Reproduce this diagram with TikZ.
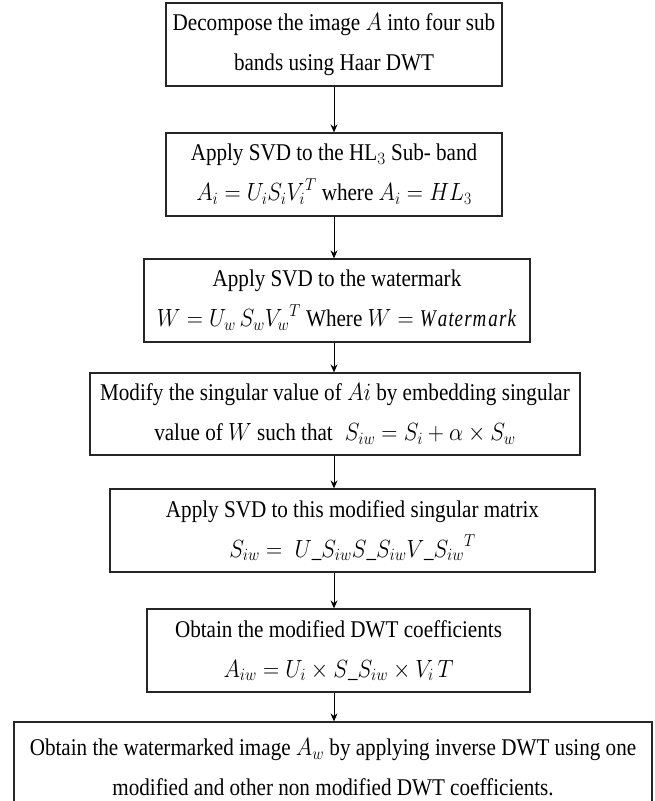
\documentclass[tikz,border=0pt]{standalone}
\usepackage{fontspec}
\usepackage{graphicx}
\setmainfont[FakeStretch=0.88]{Liberation Serif}
\usetikzlibrary{arrows.meta}
% math set slightly narrower to sit with the condensed text face
\newcommand{\mth}[1]{\scalebox{0.9}[1]{$#1$}}
\begin{document}
\begin{tikzpicture}[x=1pt,y=-1pt,
  stepbox/.style={draw=black!85, line width=1.3pt, align=center, inner sep=0pt,
    font=\fontsize{24}{40}\selectfont},
  flow/.style={draw=black, line width=0.9pt, -{Stealth[length=8pt,width=7pt]}}]
\useasboundingbox (0,0) rectangle (654,801);
\fill[white] (0,0) rectangle (654,801);

% process steps
\node[stepbox, minimum width=336pt, minimum height=83pt] (b1) at (334,44.5)
  {Decompose the image \mth{A} into four sub\\bands using Haar DWT};
\node[stepbox, minimum width=336pt, minimum height=83pt] (b2) at (334,174.5)
  {Apply SVD to the HL$_3$ Sub- band\\\mth{A_i = U_iS_i{V_i}^T} where \mth{A_i = HL_3}};
\node[stepbox, minimum width=386pt, minimum height=83pt] (b3) at (337,300.5)
  {Apply SVD to the watermark\\\mth{W = U_w\,S_w{V_w}^T} Where \mth{W = \mathit{Watermark}}};
\node[stepbox, minimum width=490pt, minimum height=82pt] (b4) at (335,414)
  {Modify the singular value of \mth{Ai} by embedding singular\\value of \mth{W} such that\enspace \mth{S_{iw} = S_i + \alpha\times S_w}};
\node[stepbox, minimum width=485pt, minimum height=83pt] (b5) at (352.5,530.5)
  {Apply SVD to this modified singular matrix\\\mth{S_{iw} =\; U\_S_{iw}S\_S_{iw}{V\_S_{iw}}^T}};
\node[stepbox, minimum width=383pt, minimum height=83pt] (b6) at (338.5,650.5)
  {Obtain the modified DWT coefficients\\\mth{A_{iw} = U_i\times S\_S_{iw}\times V_i\,T}};
\node[stepbox, minimum width=638pt, minimum height=90pt] (b7) at (333,767)
  {Obtain the watermarked image \mth{A_w} by applying inverse DWT using one\\modified and other non modified DWT coefficients.};

% connectors on a common vertical axis
\coordinate (ax) at (334,0);
\draw[flow] (b1.south -| ax) -- (b2.north -| ax);
\draw[flow] (b2.south -| ax) -- (b3.north -| ax);
\draw[flow] (b3.south -| ax) -- (b4.north -| ax);
\draw[flow] (b4.south -| ax) -- (b5.north -| ax);
\draw[flow] (b5.south -| ax) -- (b6.north -| ax);
\draw[flow] (b6.south -| ax) -- (b7.north -| ax);
\end{tikzpicture}
\end{document}
